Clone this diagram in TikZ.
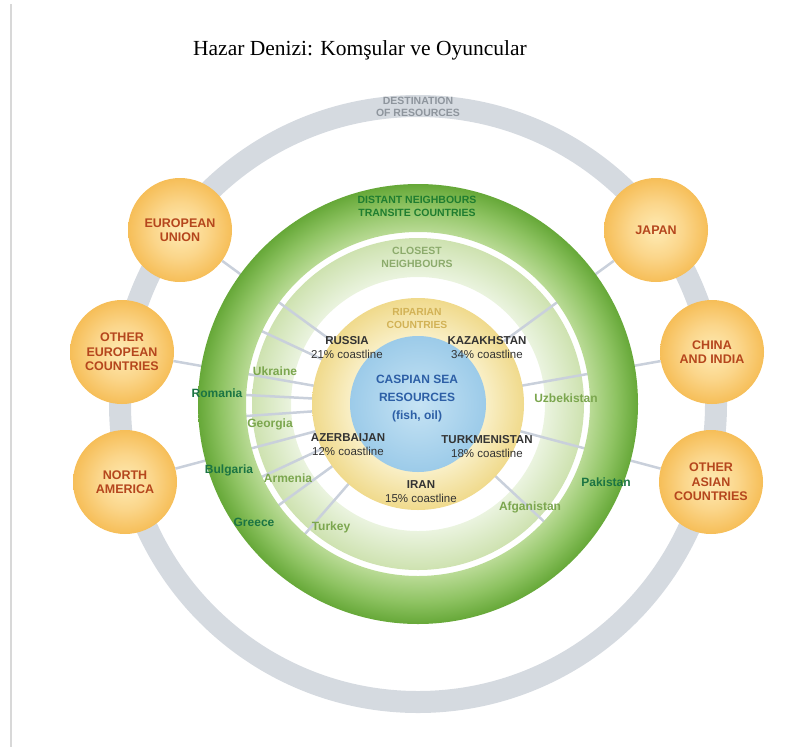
\documentclass[tikz,border=0pt]{standalone}
\usepackage{fontspec}
\setmainfont{Liberation Serif}
\newfontfamily\labelfont{Liberation Sans}
\usetikzlibrary{positioning}

\definecolor{ringgray}{HTML}{D5DAE0}
\definecolor{spokegray}{HTML}{C9D0DB}
\definecolor{framegray}{HTML}{D8D8D8}
\definecolor{destgray}{HTML}{8E959D}
\definecolor{distantout}{HTML}{66A838}
\definecolor{distantmid}{HTML}{8EC362}
\definecolor{distantin}{HTML}{BADB96}
\definecolor{closestout}{HTML}{CEE2B0}
\definecolor{closestin}{HTML}{EBF4E0}
\definecolor{ripout}{HTML}{F0DA8C}
\definecolor{ripin}{HTML}{F9EFC6}
\definecolor{seaout}{HTML}{9CCBE9}
\definecolor{seain}{HTML}{C6E3F4}
\definecolor{orangeout}{HTML}{F6BE58}
\definecolor{orangemid}{HTML}{FBD68B}
\definecolor{orangein}{HTML}{FEEBB4}
\definecolor{rust}{HTML}{B5461D}
\definecolor{distanttext}{HTML}{1F7D30}
\definecolor{fartext}{HTML}{1B7443}
\definecolor{neartext}{HTML}{7BA64E}
\definecolor{closesttext}{HTML}{8CAB6C}
\definecolor{riptext}{HTML}{D2B256}
\definecolor{seatext}{HTML}{2D5FA6}
\definecolor{coasttext}{HTML}{333333}

% a path's edge falls at 25bp of the shading
\pgfdeclareradialshading{distantshade}{\pgfpoint{0bp}{0bp}}{color(0bp)=(white); color(19.5bp)=(distantin); color(22.5bp)=(distantmid); color(25bp)=(distantout); color(50bp)=(distantout)}
\pgfdeclareradialshading{closestshade}{\pgfpoint{0bp}{0bp}}{color(0bp)=(white); color(19bp)=(closestin); color(25bp)=(closestout); color(50bp)=(closestout)}
\pgfdeclareradialshading{ripshade}{\pgfpoint{0bp}{0bp}}{color(0bp)=(ripin); color(16bp)=(ripin); color(25bp)=(ripout); color(50bp)=(ripout)}
\pgfdeclareradialshading{seashade}{\pgfpoint{0bp}{0bp}}{color(0bp)=(seain); color(25bp)=(seaout); color(50bp)=(seaout)}
\pgfdeclareradialshading{orangeshade}{\pgfpoint{0bp}{0bp}}{color(0bp)=(orangein); color(13bp)=(orangemid); color(25bp)=(orangeout); color(50bp)=(orangeout)}

\pgfdeclarelayer{rings}
\pgfdeclarelayer{spokes}
\pgfdeclarelayer{disks}
\pgfsetlayers{rings,spokes,disks,main}

\begin{document}
\begin{tikzpicture}[
  x=1pt, y=-1pt,
  country/.style={circle, minimum size=104, inner sep=0pt, shade, shading=orangeshade, align=center, text=rust, font=\labelfont\bfseries\fontsize{12.5}{14.5}\selectfont},
  spoke/.style={spokegray, line width=2.5},
  destlabel/.style={align=center, text=destgray, font=\labelfont\bfseries\fontsize{10.5}{12.6}\selectfont},
  distlabel/.style={align=center, text=distanttext, font=\labelfont\bfseries\fontsize{10.5}{13}\selectfont},
  closelabel/.style={align=center, text=closesttext, font=\labelfont\bfseries\fontsize{10.5}{13}\selectfont},
  riplabel/.style={align=center, text=riptext, font=\labelfont\bfseries\fontsize{10.3}{13}\selectfont},
  coast/.style={align=center, text=coasttext, font=\labelfont\fontsize{11.5}{14}\selectfont},
  sealabel/.style={align=center, text=seatext, font=\labelfont\bfseries\fontsize{12}{18}\selectfont},
  farlabel/.style={text=fartext, font=\labelfont\bfseries\fontsize{12}{14}\selectfont},
  nearlabel/.style={text=neartext, font=\labelfont\bfseries\fontsize{12}{14}\selectfont}
]
\useasboundingbox (0,0) rectangle (799,747);

% page edge
\draw[framegray, line width=2] (11,4) -- (11,747);

% Title
\node[anchor=base, font=\fontsize{21.5}{24}\selectfont] (head) at (360,55) {Hazar Denizi: Komşular ve Oyuncular};

\coordinate (c) at (418,404);

% Rings
\begin{pgfonlayer}{rings}
\draw[ringgray, line width=22] (c) circle[radius=298];
\shade[shading=closestshade, even odd rule] (c) circle[radius=166] (c) circle[radius=127];
\end{pgfonlayer}
\begin{pgfonlayer}{disks}
\shade[shading=distantshade, even odd rule] (c) circle[radius=220] (c) circle[radius=172];
\shade[shading=ripshade] (c) circle[radius=106];
\shade[shading=seashade] (c) circle[radius=68];
\end{pgfonlayer}

% Destinations
\node[country] (eu) at (180,230) {EUROPEAN\\UNION};
\node[country] (oec) at (122,352) {OTHER\\EUROPEAN\\COUNTRIES};
\node[country] (na) at (125,482) {NORTH\\AMERICA};
\node[country] (jp) at (656,230) {JAPAN};
\node[country] (ci) at (712,352) {CHINA\\AND INDIA};
\node[country] (oac) at (711,482) {OTHER\\ASIAN\\COUNTRIES};

% Spokes
\begin{pgfonlayer}{spokes}
\foreach \n in {eu,oec,na,jp,ci,oac}
  \draw[spoke] (\n) -- (c);
\foreach \a in {155,177,184,205,216,229,317} {
  \coordinate (s\a) at ([shift={(-\a:205)}]c);
  \draw[spoke] (c) -- (s\a);
}
\end{pgfonlayer}

% Ring titles
\node[destlabel] (dest) at (418,107) {DESTINATION\\OF RESOURCES};
\node[distlabel] (distant) at (417,206.5) {DISTANT NEIGHBOURS\\TRANSITE COUNTRIES};
\node[closelabel] (closest) at (417,257.5) {CLOSEST\\NEIGHBOURS};
\node[riplabel] (riparian) at (417,318.5) {RIPARIAN\\COUNTRIES};

% Riparian countries
\node[coast] (russia) at (347,348) {\textbf{RUSSIA}\\21\% coastline};
\node[coast] (kazakh) at (487,348) {\textbf{KAZAKHSTAN}\\34\% coastline};
\node[coast] (azer) at (348,445) {\textbf{AZERBAIJAN}\\12\% coastline};
\node[coast] (turkmen) at (487,446.5) {\textbf{TURKMENISTAN}\\18\% coastline};
\node[coast] (iran) at (421,492) {\textbf{IRAN}\\15\% coastline};

\node[sealabel] (sea) at (417,399) {CASPIAN SEA\\RESOURCES\\(fish, oil)};

% Closest neighbours
\node[nearlabel] (ukraine) at (275,371) {Ukraine};
\node[nearlabel] (georgia) at (270,424) {Georgia};
\node[nearlabel] (armenia) at (288,478) {Armenia};
\node[nearlabel] (turkey) at (331,527) {Turkey};
\node[nearlabel] (uzbek) at (566,398) {Uzbekistan};
\node[nearlabel] (afgan) at (530,507) {Afganistan};

% Distant neighbours
\node[farlabel] (romania) at (217,393) {Romania};
\node[farlabel] (bulgaria) at (229,470) {Bulgaria};
\node[farlabel] (greece) at (254,522) {Greece};
\node[farlabel] (pakistan) at (606,482) {Pakistan};

\end{tikzpicture}
\end{document}
